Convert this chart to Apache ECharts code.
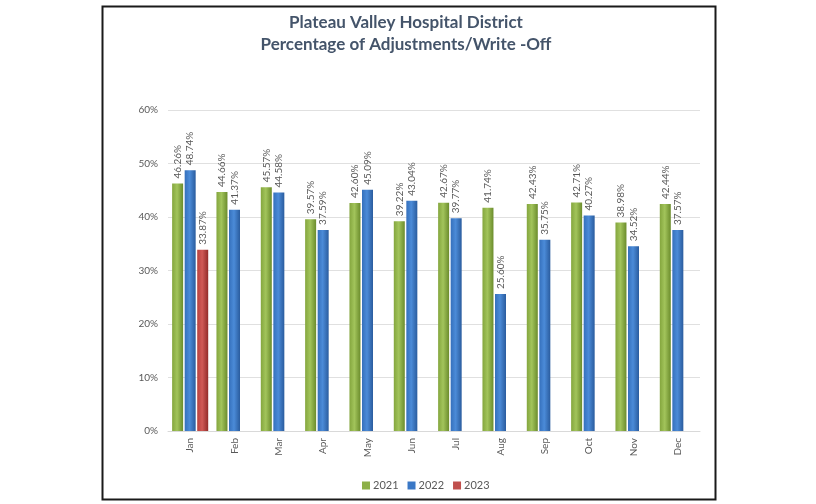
<!DOCTYPE html>
<html><head><meta charset="utf-8">
<script src="https://cdn.jsdelivr.net/npm/echarts@6/dist/echarts.min.js"></script>
<style>html,body{margin:0;padding:0;background:#fff;}#c{width:816px;height:504px;}</style>
</head><body><div id="c"></div>
<script>
const months = ['Jan','Feb','Mar','Apr','May','Jun','Jul','Aug','Sep','Oct','Nov','Dec'];
const seriesNames = ['2021','2022','2023'];
const v2021 = [46.26,44.66,45.57,39.57,42.60,39.22,42.67,41.74,42.43,42.71,38.98,42.44];
const v2022 = [48.74,41.37,44.58,37.59,45.09,43.04,39.77,25.60,35.75,40.27,34.52,37.57];
const v2023 = [33.87,null,null,null,null,null,null,null,null,null,null,null];
const yTicks = [0,10,20,30,40,50,60];

const FONT = 'Lato';
function grad(a,b,c){
  return {type:'linear',x:0,y:0,x2:1,y2:0,colorStops:[{offset:0,color:a},{offset:0.45,color:b},{offset:1,color:c}]};
}
const colors = [
  grad('#84A63E','#A2C45B','#6B8C2C'),
  grad('#3570BC','#4B8BD8','#2A5C9E'),
  grad('#B8423F','#D05A56','#922C29')
];
const solid = ['#8DB048','#3A78C6','#C0504D'];
const data = [v2021, v2022, v2023];

const chart = echarts.init(document.getElementById('c'), null, {renderer:'canvas'});
chart.setOption({
  animation:false,
  backgroundColor:'#fff',
  title:{
    text:'Plateau Valley Hospital District\nPercentage of Adjustments/Write -Off',
    left:406, textAlign:'center', top:12, padding:0,
    textStyle:{fontFamily:FONT,fontWeight:'bold',fontSize:17,color:'#44546A',lineHeight:22}
  },
  graphic:[{type:'rect',left:100,top:4,shape:{width:613,height:493},style:{fill:'none',stroke:'#1a1a1a',lineWidth:2},silent:true}],
  legend:{
    data:seriesNames.map((n,i)=>({name:n,itemStyle:{color:solid[i]}})),
    left:357, top:475, itemWidth:8, itemHeight:8, itemGap:9,
    icon:'rect',
    textStyle:{fontFamily:FONT,fontSize:11,color:'#595959',padding:[0,0,0,-2]}
  },
  grid:{left:168,right:116,top:110,bottom:73},
  xAxis:{
    type:'category', data:months,
    axisLine:{lineStyle:{color:'#D9D9D9'}},
    axisTick:{show:false},
    axisLabel:{rotate:90,fontFamily:FONT,fontSize:10,color:'#595959',margin:7}
  },
  yAxis:{
    type:'value', min:0, max:60, interval:10,
    axisLabel:{formatter:v=>yTicks.includes(v)?v+'%':'',fontFamily:FONT,fontSize:10,color:'#595959',margin:10},
    splitLine:{lineStyle:{color:'#E0E0E0'}},
    axisLine:{show:false}, axisTick:{show:false}
  },
  series: seriesNames.map((n,i)=>({
    name:n, type:'bar', data:data[i],
    barWidth:11, barGap:'14%',
    itemStyle:{color:colors[i]},
    label:{show:true,position:'top',rotate:90,align:'left',verticalAlign:'middle',distance:5,
      formatter:p=>p.value==null?'':p.value.toFixed(2)+'%',
      fontFamily:FONT,fontSize:10,color:'#595959'}
  }))
});
</script></body></html>
